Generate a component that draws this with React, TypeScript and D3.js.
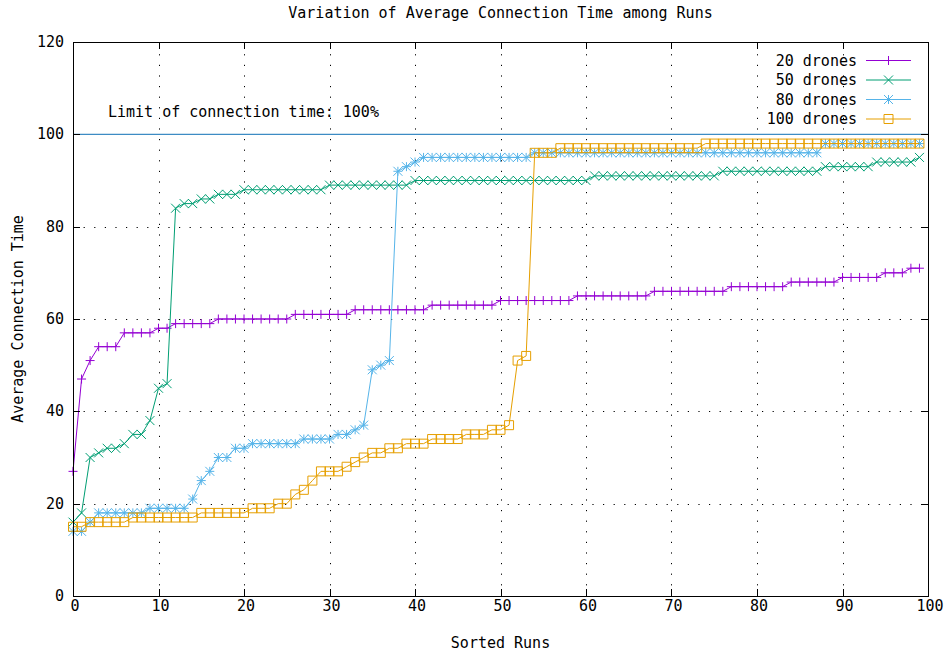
import React from "react";
import * as d3 from "d3";

// ---- data ----
const drones20: number[] = [
  27, 47, 51, 54, 54, 54, 57, 57, 57, 57,
  58, 58, 59, 59, 59, 59, 59, 60, 60, 60,
  60, 60, 60, 60, 60, 60, 61, 61, 61, 61,
  61, 61, 61, 62, 62, 62, 62, 62, 62, 62,
  62, 62, 63, 63, 63, 63, 63, 63, 63, 63,
  64, 64, 64, 64, 64, 64, 64, 64, 64, 65,
  65, 65, 65, 65, 65, 65, 65, 65, 66, 66,
  66, 66, 66, 66, 66, 66, 66, 67, 67, 67,
  67, 67, 67, 67, 68, 68, 68, 68, 68, 68,
  69, 69, 69, 69, 69, 70, 70, 70, 71, 71,
];
const drones50: number[] = [
  16, 18, 30, 31, 32, 32, 33, 35, 35, 38,
  45, 46, 84, 85, 85, 86, 86, 87, 87, 87,
  88, 88, 88, 88, 88, 88, 88, 88, 88, 88,
  89, 89, 89, 89, 89, 89, 89, 89, 89, 89,
  90, 90, 90, 90, 90, 90, 90, 90, 90, 90,
  90, 90, 90, 90, 90, 90, 90, 90, 90, 90,
  90, 91, 91, 91, 91, 91, 91, 91, 91, 91,
  91, 91, 91, 91, 91, 91, 92, 92, 92, 92,
  92, 92, 92, 92, 92, 92, 92, 92, 93, 93,
  93, 93, 93, 93, 94, 94, 94, 94, 94, 95,
];
const drones80: number[] = [
  14, 14, 16, 18, 18, 18, 18, 18, 18, 19,
  19, 19, 19, 19, 21, 25, 27, 30, 30, 32,
  32, 33, 33, 33, 33, 33, 33, 34, 34, 34,
  34, 35, 35, 36, 37, 49, 50, 51, 92, 93,
  94, 95, 95, 95, 95, 95, 95, 95, 95, 95,
  95, 95, 95, 95, 96, 96, 96, 96, 96, 96,
  96, 96, 96, 96, 96, 96, 96, 96, 96, 96,
  96, 96, 96, 96, 96, 96, 96, 96, 96, 96,
  96, 96, 96, 96, 96, 96, 96, 96, 98, 98,
  98, 98, 98, 98, 98, 98, 98, 98, 98, 98,
];
const drones100: number[] = [
  15, 15, 16, 16, 16, 16, 16, 17, 17, 17,
  17, 17, 17, 17, 17, 18, 18, 18, 18, 18,
  18, 19, 19, 19, 20, 20, 22, 23, 25, 27,
  27, 27, 28, 29, 30, 31, 31, 32, 32, 33,
  33, 33, 34, 34, 34, 34, 35, 35, 35, 36,
  36, 37, 51, 52, 96, 96, 96, 97, 97, 97,
  97, 97, 97, 97, 97, 97, 97, 97, 97, 97,
  97, 97, 97, 97, 98, 98, 98, 98, 98, 98,
  98, 98, 98, 98, 98, 98, 98, 98, 98, 98,
  98, 98, 98, 98, 98, 98, 98, 98, 98, 98,
];
const seriesNames: string[] = ["20 drones", "50 drones", "80 drones", "100 drones"];
const seriesColors: string[] = ["#9400d3", "#009e73", "#56b4e9", "#e69f00"];
const seriesMarkers: string[] = ["plus", "cross", "star", "square"];
const xTickValues: number[] = [0, 10, 20, 30, 40, 50, 60, 70, 80, 90, 100];
const yTickValues: number[] = [0, 20, 40, 60, 80, 100, 120];
const limitValue = 100;
const limitLabel = "Limit of connection time: 100%";
const title = "Variation of Average Connection Time among Runs";
const xLabel = "Sorted Runs";
const yLabel = "Average Connection Time";

const W = 948;
const H = 658;
const FONT = "'DejaVu Sans Mono', monospace";

function markerPath(kind: string, cx: number, cy: number, r: number): string {
  const plus = `M${cx - r},${cy}H${cx + r}M${cx},${cy - r}V${cy + r}`;
  const cross = `M${cx - r},${cy - r}L${cx + r},${cy + r}M${cx - r},${cy + r}L${cx + r},${cy - r}`;
  if (kind === "plus") return plus;
  if (kind === "cross") return cross;
  if (kind === "star") return plus + cross;
  return `M${cx - r},${cy - r}H${cx + r}V${cy + r}H${cx - r}Z`;
}

export default function App() {
  const x = d3.scaleLinear().domain([0, 100]).range([73, 928]);
  const y = d3.scaleLinear().domain([0, 120]).range([596, 42]);
  const allSeries = [drones20, drones50, drones80, drones100];
  const line = d3
    .line<number>()
    .x((_, i) => x(i))
    .y((d) => y(d));
  const r = 4.5;
  const tickLen = 7;
  const [x0, x1] = x.range();
  const [y0, y1] = y.range();

  return (
    <svg
      width={W}
      height={H}
      style={{ position: "absolute", left: 0, top: 0, background: "#fff" }}
      fontFamily={FONT}
      fontSize={15}
    >
      <rect x={0} y={0} width={W} height={H} fill="#fff" />
      {/* grid */}
      <g stroke="#000" strokeWidth={1} strokeDasharray="1.2,9.4">
        {xTickValues.slice(1, -1).map((t) => (
          <line key={"gx" + t} x1={Math.round(x(t)) + 0.5} x2={Math.round(x(t)) + 0.5} y1={y0} y2={y1} />
        ))}
        {yTickValues.slice(1, -1).map((t) => (
          <line key={"gy" + t} y1={Math.round(y(t)) + 0.5} y2={Math.round(y(t)) + 0.5} x1={x0} x2={x1} />
        ))}
      </g>
      {/* limit line */}
      <line x1={x0} x2={x1} y1={y(limitValue)} y2={y(limitValue)} stroke="#3d8cc4" strokeWidth={1.2} />
      <text x={108} y={y(limitValue) - 17} fill="#000">
        {limitLabel}
      </text>
      {/* series */}
      {allSeries.map((vals, si) => (
        <g key={"s" + si} stroke={seriesColors[si]} fill="none" strokeWidth={1}>
          <path d={line(vals) || ""} />
          <path d={vals.map((v, i) => markerPath(seriesMarkers[si], x(i), y(v), r)).join("")} />
        </g>
      ))}
      {/* frame */}
      <rect x={x0 + 0.5} y={y1 + 0.5} width={x1 - x0} height={y0 - y1} fill="none" stroke="#000" strokeWidth={1} />
      {/* ticks */}
      <g stroke="#000" strokeWidth={1}>
        {xTickValues.map((t) => (
          <g key={"tx" + t}>
            <line x1={Math.round(x(t)) + 0.5} x2={Math.round(x(t)) + 0.5} y1={y0} y2={y0 - tickLen} />
            <line x1={Math.round(x(t)) + 0.5} x2={Math.round(x(t)) + 0.5} y1={y1} y2={y1 + tickLen} />
          </g>
        ))}
        {yTickValues.map((t) => (
          <g key={"ty" + t}>
            <line y1={Math.round(y(t)) + 0.5} y2={Math.round(y(t)) + 0.5} x1={x0} x2={x0 + tickLen} />
            <line y1={Math.round(y(t)) + 0.5} y2={Math.round(y(t)) + 0.5} x1={x1} x2={x1 - tickLen} />
          </g>
        ))}
      </g>
      {/* tick labels */}
      <g fill="#000">
        {xTickValues.map((t) => (
          <text key={"lx" + t} x={x(t) + 2} y={y0 + 15} textAnchor="middle">
            {t}
          </text>
        ))}
        {yTickValues.map((t) => (
          <text key={"ly" + t} x={x0 - 9} y={y(t) + 5} textAnchor="end">
            {t}
          </text>
        ))}
      </g>
      {/* titles */}
      <text x={(x0 + x1) / 2} y={18} textAnchor="middle" fill="#000">
        {title}
      </text>
      <text x={(x0 + x1) / 2} y={648} textAnchor="middle" fill="#000">
        {xLabel}
      </text>
      <text
        transform={`translate(23,${(y0 + y1) / 2}) rotate(-90)`}
        textAnchor="middle"
        fill="#000"
      >
        {yLabel}
      </text>
      {/* legend */}
      {seriesNames.map((name, si) => {
        const ly = 60.5 + si * 19.5;
        return (
          <g key={"lg" + si}>
            <text x={857} y={ly + 5} textAnchor="end" fill="#000">
              {name}
            </text>
            <g stroke={seriesColors[si]} fill="none" strokeWidth={1}>
              <line x1={866} x2={911} y1={ly} y2={ly} />
              <path d={markerPath(seriesMarkers[si], 888.5, ly, r)} />
            </g>
          </g>
        );
      })}
    </svg>
  );
}
